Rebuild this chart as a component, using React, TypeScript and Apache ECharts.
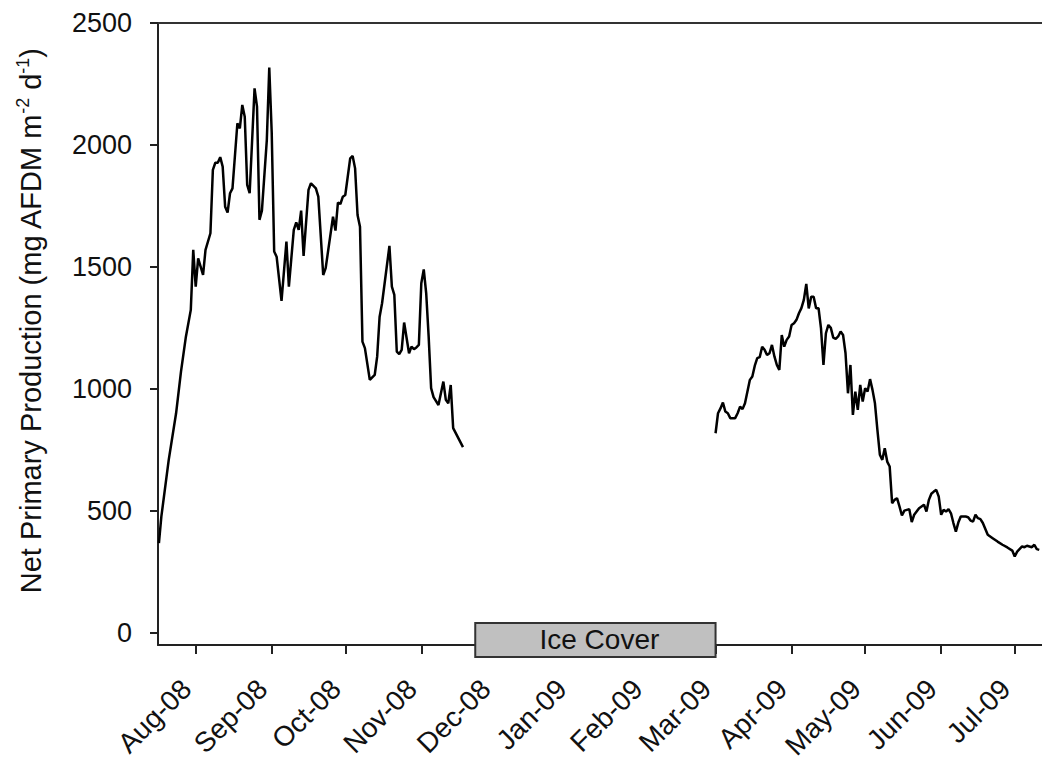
import React, { useEffect, useRef } from "react";
import * as echarts from "echarts";

const MONTHS = ["Jan", "Feb", "Mar", "Apr", "May", "Jun", "Jul", "Aug", "Sep", "Oct", "Nov", "Dec"];

// Segment before ice cover (2008)
const dates2008 = [
  "2008-07-17", "2008-07-18", "2008-07-21", "2008-07-24", "2008-07-26", "2008-07-28", "2008-07-30", "2008-07-31",
  "2008-08-01", "2008-08-02", "2008-08-04", "2008-08-05", "2008-08-07", "2008-08-08", "2008-08-09", "2008-08-10",
  "2008-08-11", "2008-08-12", "2008-08-13", "2008-08-14", "2008-08-15", "2008-08-16", "2008-08-18", "2008-08-19",
  "2008-08-20", "2008-08-21", "2008-08-22", "2008-08-23", "2008-08-25", "2008-08-26", "2008-08-27", "2008-08-28",
  "2008-08-30", "2008-08-31", "2008-09-01", "2008-09-02", "2008-09-03", "2008-09-05", "2008-09-07", "2008-09-08",
  "2008-09-10", "2008-09-11", "2008-09-12", "2008-09-13", "2008-09-14", "2008-09-16", "2008-09-17", "2008-09-19",
  "2008-09-20", "2008-09-22", "2008-09-23", "2008-09-26", "2008-09-27", "2008-09-28", "2008-09-29", "2008-09-30",
  "2008-10-01", "2008-10-03", "2008-10-04", "2008-10-05", "2008-10-06", "2008-10-07", "2008-10-08", "2008-10-09",
  "2008-10-11", "2008-10-13", "2008-10-14", "2008-10-15", "2008-10-16", "2008-10-19", "2008-10-20", "2008-10-21",
  "2008-10-22", "2008-10-23", "2008-10-24", "2008-10-25", "2008-10-27", "2008-10-28", "2008-10-29", "2008-10-30",
  "2008-10-31", "2008-11-01", "2008-11-02", "2008-11-03", "2008-11-04", "2008-11-05", "2008-11-06", "2008-11-08",
  "2008-11-10", "2008-11-11", "2008-11-12", "2008-11-13", "2008-11-14", "2008-11-18",
];
const npp2008 = [
  368, 477, 709, 900, 1071, 1214, 1324, 1570,
  1419, 1535, 1467, 1570, 1638, 1898, 1927, 1927,
  1950, 1911, 1747, 1723, 1802, 1822, 2089, 2068,
  2164, 2116, 1836, 1802, 2232, 2157, 1693, 1731,
  2020, 2317, 2050, 1563, 1542, 1361, 1604, 1419,
  1652, 1683, 1652, 1731, 1545, 1816, 1843, 1822,
  1788, 1467, 1495, 1706, 1649, 1764, 1758, 1788,
  1795, 1945, 1955, 1904, 1713, 1665, 1194, 1167,
  1037, 1057, 1132, 1296, 1351, 1586, 1419, 1385,
  1153, 1143, 1160, 1272, 1146, 1173, 1163, 1170,
  1180, 1433, 1490, 1392, 1214, 1003, 966, 934,
  1030, 955, 941, 1016, 839, 761,
];

// Segment after ice cover (2009)
const dates2009 = [
  "2009-03-01", "2009-03-02", "2009-03-03", "2009-03-04", "2009-03-05", "2009-03-06", "2009-03-07", "2009-03-09",
  "2009-03-10", "2009-03-11", "2009-03-12", "2009-03-13", "2009-03-15", "2009-03-16", "2009-03-17", "2009-03-18",
  "2009-03-19", "2009-03-20", "2009-03-21", "2009-03-22", "2009-03-23", "2009-03-24", "2009-03-25", "2009-03-26",
  "2009-03-27", "2009-03-28", "2009-03-29", "2009-03-30", "2009-03-31", "2009-04-01", "2009-04-02", "2009-04-03",
  "2009-04-04", "2009-04-05", "2009-04-06", "2009-04-07", "2009-04-08", "2009-04-09", "2009-04-10", "2009-04-11",
  "2009-04-12", "2009-04-13", "2009-04-14", "2009-04-15", "2009-04-16", "2009-04-17", "2009-04-18", "2009-04-19",
  "2009-04-20", "2009-04-21", "2009-04-22", "2009-04-23", "2009-04-24", "2009-04-25", "2009-04-26", "2009-04-27",
  "2009-04-28", "2009-04-29", "2009-04-30", "2009-05-01", "2009-05-02", "2009-05-03", "2009-05-04", "2009-05-05",
  "2009-05-06", "2009-05-07", "2009-05-08", "2009-05-09", "2009-05-10", "2009-05-11", "2009-05-12", "2009-05-13",
  "2009-05-14", "2009-05-15", "2009-05-16", "2009-05-17", "2009-05-19", "2009-05-20", "2009-05-21", "2009-05-23",
  "2009-05-24", "2009-05-25", "2009-05-26", "2009-05-27", "2009-05-28", "2009-05-29", "2009-05-30", "2009-05-31",
  "2009-06-01", "2009-06-02", "2009-06-03", "2009-06-04", "2009-06-05", "2009-06-06", "2009-06-07", "2009-06-08",
  "2009-06-09", "2009-06-11", "2009-06-12", "2009-06-13", "2009-06-14", "2009-06-15", "2009-06-16", "2009-06-17",
  "2009-06-18", "2009-06-20", "2009-06-22", "2009-06-24", "2009-06-26", "2009-06-28", "2009-06-30", "2009-07-01",
  "2009-07-02", "2009-07-04", "2009-07-05", "2009-07-06", "2009-07-08", "2009-07-09", "2009-07-10", "2009-07-11",
];
const npp2009 = [
  818, 900, 920, 944, 907, 900, 880, 880,
  900, 927, 917, 941, 1037, 1051, 1095, 1126,
  1130, 1173, 1160, 1139, 1146, 1180, 1133, 1098,
  1078, 1221, 1173, 1201, 1215, 1262, 1269, 1283,
  1310, 1331, 1365, 1430, 1330, 1378, 1378, 1331,
  1331, 1248, 1098, 1228, 1262, 1250, 1210, 1205,
  1215, 1235, 1221, 1146, 982, 1098, 893, 989,
  914, 1016, 948, 1003, 989, 1040, 996, 941,
  832, 730, 709, 757, 702, 682, 531, 545,
  552, 518, 481, 501, 507, 454, 484, 511,
  518, 525, 497, 545, 570, 579, 586, 559,
  484, 504, 497, 507, 490, 450, 415, 452,
  477, 477, 474, 460, 456, 484, 470, 466,
  450, 402, 388, 374, 361, 350, 337, 313,
  333, 354, 351, 357, 351, 361, 343, 340,
];

const monthTicks = [
  "2008-08-01", "2008-09-01", "2008-10-01", "2008-11-01", "2008-12-01", "2009-01-01",
  "2009-02-01", "2009-03-01", "2009-04-01", "2009-05-01", "2009-06-01", "2009-07-01",
];
const yTicks = [0, 500, 1000, 1500, 2000, 2500];
const iceCover = { start: "2008-11-23", end: "2009-03-01", label: "Ice Cover" };

const X_MIN = Date.UTC(2008, 6, 16, 15);
const X_MAX = Date.UTC(2009, 6, 12, 3);
const Y_MIN = -50;
const Y_MAX = 2500;

const ts = (s: string) => {
  const [y, m, d] = s.split("-").map(Number);
  return Date.UTC(y, m - 1, d);
};

const FONT = "'Liberation Sans', Arial, Helvetica, sans-serif";

export default function App() {
  const ref = useRef<HTMLDivElement>(null);

  useEffect(() => {
    document.body.style.margin = "0";
    if (!ref.current) return;
    const chart = echarts.init(ref.current, undefined, { renderer: "svg" });

    const seg1 = dates2008.map((d, i) => [ts(d), npp2008[i]]);
    const seg2 = dates2009.map((d, i) => [ts(d), npp2009[i]]);

    const option: any = {
      animation: false,
      backgroundColor: "#ffffff",
      grid: { left: 158, top: 23, right: 0, bottom: 117, outerBoundsMode: "none" },
      xAxis: [
        {
          type: "value",
          min: X_MIN,
          max: X_MAX,
          position: "bottom",
          axisLine: { show: true, onZero: false, lineStyle: { color: "#222", width: 2 } },
          axisTick: {
            show: true,
            length: 9,
            inside: false,
            customValues: monthTicks.map(ts),
            lineStyle: { color: "#222", width: 2 },
          },
          axisLabel: {
            show: true,
            customValues: monthTicks.map(ts),
            rotate: 45,
            margin: 30,
            padding: [0, 13, 0, 0],
            fontSize: 28,
            fontFamily: FONT,
            color: "#111",
            formatter: (v: number) => {
              const dt = new Date(v);
              return MONTHS[dt.getUTCMonth()] + "-" + String(dt.getUTCFullYear()).slice(2);
            },
          },
          splitLine: { show: false },
        },
        {
          type: "value",
          min: X_MIN,
          max: X_MAX,
          position: "top",
          axisLine: { show: true, onZero: false, lineStyle: { color: "#333", width: 2 } },
          axisTick: { show: false },
          axisLabel: { show: false },
          splitLine: { show: false },
        },
      ],
      yAxis: {
        type: "value",
        min: Y_MIN,
        max: Y_MAX,
        axisLine: { show: true, onZero: false, lineStyle: { color: "#222", width: 2 } },
        axisTick: {
          show: true,
          length: 8,
          inside: false,
          customValues: yTicks,
          lineStyle: { color: "#222", width: 2 },
        },
        axisLabel: {
          show: true,
          customValues: yTicks,
          margin: 26,
          fontSize: 27,
          fontFamily: FONT,
          color: "#111",
          formatter: (v: number) => String(v),
        },
        splitLine: { show: false },
        name: "{a|Net Primary Production (mg AFDM m}{sup|-2}{a| d}{sup|-1}{a|)}",
        nameLocation: "middle",
        nameGap: 110,
        nameRotate: 90,
        nameTextStyle: {
          padding: [0, 0, 0, 26],
          rich: {
            a: { fontSize: 29, fontFamily: FONT, color: "#111", lineHeight: 34 },
            sup: { fontSize: 18, fontFamily: FONT, color: "#111", verticalAlign: "top", lineHeight: 20 },
          },
        },
      },
      series: [
        {
          type: "line",
          data: seg1,
          showSymbol: false,
          symbol: "none",
          lineStyle: { color: "#000", width: 2.5 },
          z: 3,
        },
        {
          type: "line",
          data: seg2,
          showSymbol: false,
          symbol: "none",
          lineStyle: { color: "#000", width: 2.5 },
          z: 3,
        },
        {
          type: "custom",
          clip: false,
          z: 10,
          data: [[ts(iceCover.start), ts(iceCover.end), 0]],
          encode: { x: [0, 1], y: 2 },
          renderItem: (params: any, api: any) => {
            const s = api.coord([api.value(0), Y_MIN]);
            const e = api.coord([api.value(1), Y_MIN]);
            const base = s[1];
            return {
              type: "group",
              children: [
                {
                  type: "rect",
                  shape: { x: s[0], y: base - 22, width: e[0] - s[0], height: 34 },
                  style: { fill: "#c0c0c0", stroke: "#333", lineWidth: 2 },
                },
                {
                  type: "text",
                  style: {
                    text: iceCover.label,
                    x: (s[0] + e[0]) / 2 + 4,
                    y: base - 6,
                    align: "center",
                    verticalAlign: "middle",
                    fontSize: 28,
                    fontFamily: FONT,
                    fill: "#111",
                  },
                },
              ],
            };
          },
        },
      ],
    };

    chart.setOption(option);
    return () => chart.dispose();
  }, []);

  return <div ref={ref} style={{ width: 1042, height: 762 }} />;
}
